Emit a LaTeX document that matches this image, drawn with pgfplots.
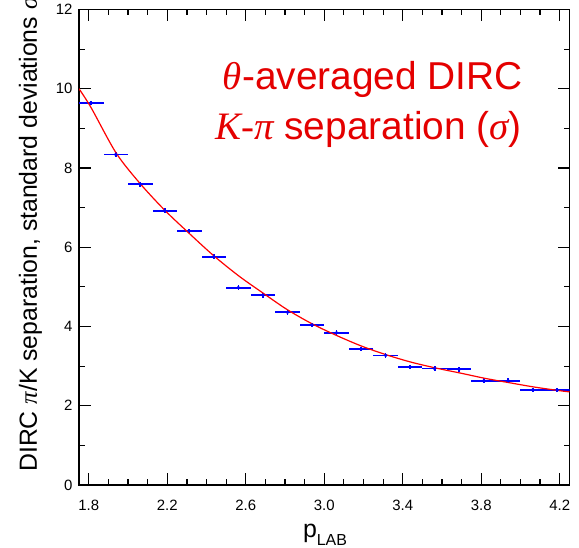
\documentclass[border=0pt]{standalone}
\usepackage{pgfplots}
\pgfplotsset{compat=1.18}
\usepackage{fontspec}
\setmainfont{Liberation Sans}
\newfontfamily\tms{Liberation Serif}
\definecolor{ttlred}{RGB}{228,0,0}
\definecolor{ptblue}{RGB}{0,0,255}

% p_LAB bins: centre, value, half width, error
\pgfplotstableread{
x       y     ex      ey
1.8125  9.64  0.0625  0.06
1.9375  8.34  0.0625  0.06
2.0625  7.59  0.0625  0.06
2.1875  6.92  0.0625  0.06
2.3125  6.41  0.0625  0.06
2.4375  5.76  0.0625  0.06
2.5625  4.98  0.0625  0.06
2.6875  4.79  0.0625  0.06
2.8125  4.36  0.0625  0.06
2.9375  4.04  0.0625  0.06
3.0625  3.84  0.0625  0.06
3.1875  3.43  0.0625  0.06
3.3125  3.27  0.0625  0.06
3.4375  2.98  0.0625  0.06
3.5625  2.94  0.0625  0.06
3.6875  2.92  0.0625  0.06
3.8125  2.63  0.0625  0.06
3.9375  2.63  0.0625  0.06
4.0625  2.40  0.0625  0.06
4.1875  2.40  0.0625  0.06
}\sepdata

\begin{document}
\begin{tikzpicture}
\path[use as bounding box, clip] (-79bp,-63bp) rectangle (500bp,485bp);
\begin{axis}[
  at={(0,0)}, anchor=south west,
  scale only axis, width=490.5bp, height=475.5bp,
  xmin=1.75, xmax=4.25, ymin=0, ymax=12,
  xtick={1.8,2.2,2.6,3.0,3.4,3.8,4.2},
  minor x tick num=3,
  ytick={0,2,4,6,8,10,12},
  minor y tick num=1,
  tick align=inside,
  major tick length=12bp, minor tick length=6bp,
  every tick/.style={black, line width=1.2bp},
  axis line style={line width=1.6bp},
  tick label style={font=\fontsize{15}{15}\selectfont},
  /pgf/number format/assume math mode=true,
  xticklabel style={/pgf/number format/.cd, fixed, fixed zerofill, precision=1, /tikz/.cd, yshift=-12bp},
  yticklabel style={xshift=-3bp},
]
\addplot[only marks, mark=*, mark size=1.6bp, ptblue,
  error bars/.cd, x dir=both, x explicit, y dir=both, y explicit,
  error mark=none, error bar style={line width=1.8bp, ptblue}]
  table[x=x, y=y, x error=ex, y error=ey] {\sepdata};
\addplot[red, line width=1.2bp, smooth, tension=0.5, no marks] coordinates {
  (1.75,10.0) (1.812,9.52) (1.939,8.38) (2.061,7.61) (2.188,6.93) (2.316,6.33)
  (2.438,5.78) (2.566,5.27) (2.689,4.84) (2.813,4.42) (2.941,4.06) (3.069,3.76)
  (3.193,3.50) (3.320,3.28) (3.443,3.10) (3.571,2.95) (3.698,2.82) (3.821,2.69)
  (3.945,2.58) (4.073,2.47) (4.20,2.38) (4.25,2.35)
};
\end{axis}
\node[anchor=base east, text=ttlred, font=\fontsize{39}{39}\selectfont, inner sep=0pt]
  at (444bp,395bp) {{\tms\itshape θ}-averaged DIRC};
\node[anchor=base east, text=ttlred, font=\fontsize{39}{39}\selectfont, inner sep=0pt]
  at (443bp,345bp) {{\tms\itshape K-π} separation ({\tms\itshape σ})};
\node[rotate=90, anchor=base west, font=\fontsize{24.9}{24.9}\selectfont, inner sep=0pt]
  at (-42bp,13bp) {DIRC {\tms\itshape π}/K separation, standard deviations {\tms\itshape σ}};
\node[anchor=base, inner sep=0pt] at (246bp,-52bp)
  {\fontsize{25}{25}\selectfont p\raisebox{-8bp}{\fontsize{16}{16}\selectfont LAB}};
\end{tikzpicture}
\end{document}
